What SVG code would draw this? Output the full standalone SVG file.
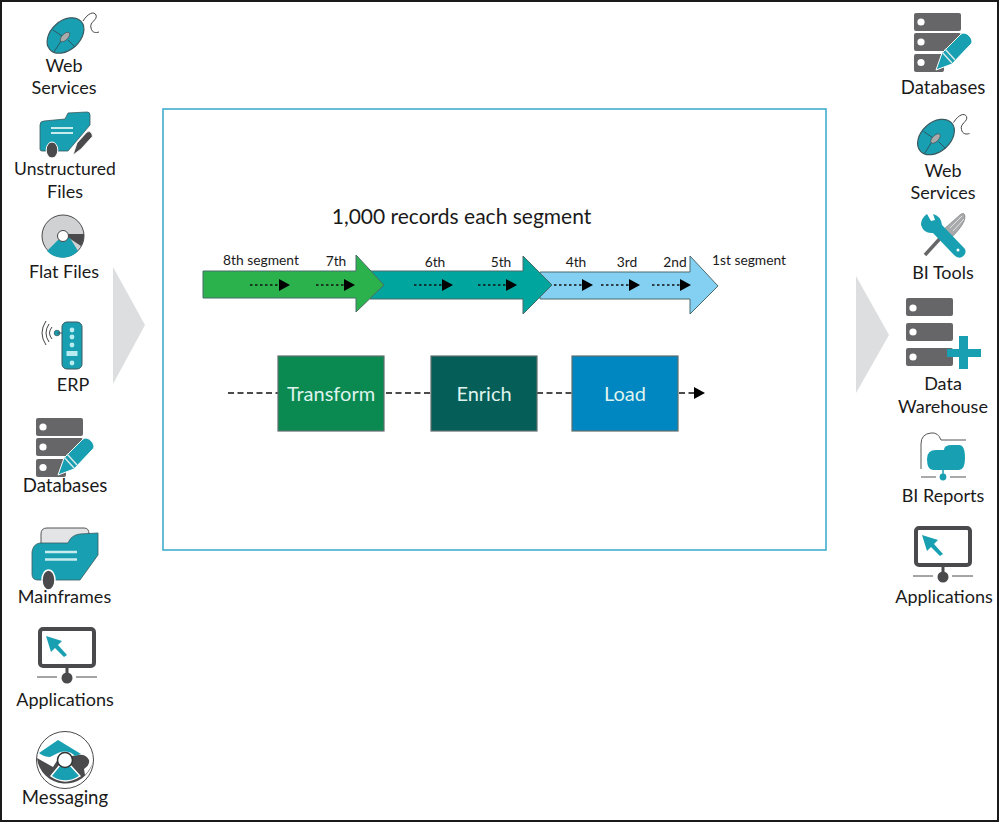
<svg xmlns="http://www.w3.org/2000/svg" width="1000" height="822" viewBox="0 0 1000 822">
<style>
text{font-family:Lato,"Open Sans","Liberation Sans",sans-serif;fill:#1a1a1a;text-anchor:middle}
.l{font-size:18px}
.m{font-size:18.600px}
.n{font-size:17.500px}
.s{font-size:13.800px}
.h{font-size:21px}
.b{font-size:20px;fill:#dff3ee}
.box{stroke:#5f6f6f;stroke-width:1.2}
.seg{stroke:#4a6a6a;stroke-width:1}
.t{fill:#18a0b2}
.g{fill:#666668}
.d{fill:#4a4a4c}
.dot{stroke:#111;stroke-width:1.4;stroke-dasharray:2.5 2.5;fill:none;marker-end:url(#h)}
.dash{stroke:#111;stroke-width:1.3;stroke-dasharray:6 3.5;fill:none}
.w{fill:#fff}
</style>
<defs>
<marker id="h" markerUnits="userSpaceOnUse" markerWidth="11" markerHeight="12" refX="0" refY="6" orient="auto"><path d="M0 0L11 6L0 12Z" fill="#000"/></marker>
<symbol id="mouse" overflow="visible">
<path d="M83 21C88 13 94 11 96 15C98 20 89 22 91 28C92 33 96 33 99 32" fill="none" stroke="#444" stroke-width="1"/>
<ellipse cx="65.500" cy="35.500" rx="21" ry="14.500" transform="rotate(-42 65.500 35.500)" class="t" stroke="#3a5a60" stroke-width="1.200"/>
<path d="M53 30L62 36M68 40L75 47M61 41L54 52" stroke="#2f5560" stroke-width="1" fill="none"/>
<ellipse cx="65" cy="37" rx="6" ry="3" transform="rotate(-45 65 37)" fill="#a9aaac" stroke="#444" stroke-width=".6"/>
</symbol>
<symbol id="dbp" overflow="visible">
<rect x="36" y="418" width="47" height="18" rx="2" class="g"/>
<rect x="36" y="438" width="47" height="18" rx="2" class="g"/>
<rect x="36" y="459" width="30" height="18" rx="2" class="g"/>
<circle cx="43" cy="427" r="3.600" class="w"/><circle cx="43" cy="447" r="3.600" class="w"/><circle cx="43" cy="467.500" r="3.600" class="w"/>
<path d="M58 475L64 458L83 439C87 436 93 441 94 446C94 448 93 449 92 450L74 469Z" class="t" stroke="#fff" stroke-width="1"/>
<path d="M64 457L74 468M67 454L77 465" stroke="#d8e8e8" stroke-width="1.500" fill="none"/>
</symbol>
<symbol id="mon" overflow="visible">
<rect x="40" y="629" width="54" height="37" rx="3" fill="#fff" stroke="#4a4a4c" stroke-width="4"/>
<path d="M67 668V678" stroke="#4a4a4c" stroke-width="3"/>
<circle cx="67" cy="678" r="5.500" class="d"/>
<path d="M37 677H57M76 677H97" stroke="#4a4a4c" stroke-width="1"/>
<path d="M46 636L62 641L58 645L67 655L64 657L55 648L51 652Z" class="t"/>
</symbol>
</defs>

<rect x="1" y="1" width="997" height="820" fill="#fff" stroke="#1a1a1a" stroke-width="2"/>
<polygon id="arrow-in" points="113,267 145,325 113,384" fill="#dcdee0"/>
<polygon id="arrow-out" points="856,276 889,335 856,393" fill="#dcdee0"/>

<g id="process-frame">
<rect x="163" y="109" width="663" height="441" fill="#fff" stroke="#35a8cc" stroke-width="1.500"/>
<text class="h" x="461.500" y="224">1,000 records each segment</text>
</g>

<g id="segments">
<polygon id="seg-blue" class="seg" points="540,272 690,272 690,256 718,286 690,314 690,299 540,299" fill="#84d0f2"/>
<polygon id="seg-teal" class="seg" points="370,271 523,271 523,256 552,285 523,314 523,299 370,299" fill="#00a69d"/>
<polygon id="seg-green" class="seg" points="203,271 356,271 356,255 384,285 356,312 356,298 203,298" fill="#2bb24c"/>
<text class="s" x="261" y="265">8th segment</text>
<text class="s" x="336" y="266">7th</text>
<text class="s" x="435" y="267">6th</text>
<text class="s" x="501" y="267">5th</text>
<text class="s" x="576" y="267">4th</text>
<text class="s" x="627" y="267">3rd</text>
<text class="s" x="675" y="267">2nd</text>
<text class="s" x="749" y="265">1st segment</text>
</g>

<g id="connectors">
<path class="dot" d="M250 285H279"/>
<path class="dot" d="M316 285H344"/>
<path class="dot" d="M414 285H442"/>
<path class="dot" d="M478 285H506"/>
<path class="dot" d="M554 285H582"/>
<path class="dot" d="M601 285H629"/>
<path class="dot" d="M652 285H680"/>
<path class="dash" d="M228 393H278"/>
<path class="dash" d="M386 393H431"/>
<path class="dash" d="M537 393H572"/>
<path class="dash" d="M679 393H694" marker-end="url(#h)"/>
</g>

<g id="transform"><rect class="box" x="278" y="356" width="106" height="75" fill="#0a8a50"/><text class="b" x="331" y="401">Transform</text></g>
<g id="enrich"><rect class="box" x="431" y="356" width="106" height="75" fill="#055e57"/><text class="b" x="484" y="401">Enrich</text></g>
<g id="load"><rect class="box" x="572" y="356" width="106" height="75" fill="#0086c0"/><text class="b" x="625" y="401">Load</text></g>

<g id="src-web"><use href="#mouse"/><text class="l" x="64" y="72">Web</text><text class="l" x="64" y="94">Services</text></g>
<g id="src-unstructured">
<path d="M40 125Q40 121 44 121L65 119L68 113L87 112Q90 112 90 115V125L68 151H42Q40 151 40 149Z" class="t" stroke="#3a5a60" stroke-width=".8"/>
<ellipse cx="52" cy="150" rx="5.800" ry="8" class="d" stroke="#fff" stroke-width="1"/>
<path d="M51 128H73M51 133H73" stroke="#c8ecee" stroke-width="2.200"/>
<path d="M73 155L77 143L87 132Q90 130 92 134Q93 137 91 138L81 149Z" class="d" stroke="#fff" stroke-width=".8"/>
<text class="n" x="65" y="175">Unstructured</text><text class="l" x="65" y="198">Files</text>
</g>
<g id="src-flat">
<circle cx="63" cy="236" r="21" fill="#cfd1d3" stroke="#4a4a4c" stroke-width="1"/>
<path d="M63 234H84A21 21 0 0 1 81 246Z" class="d"/>
<path d="M60 238L70 238L78 251A21 21 0 0 1 47 251Z" class="t"/>
<circle cx="63" cy="236" r="5.500" fill="#fff" stroke="#444" stroke-width="1"/>
<text class="l" x="64" y="278">Flat Files</text>
</g>
<g id="src-erp">
<rect x="62" y="322" width="20" height="47" rx="5" class="t" stroke="#3a5a60" stroke-width="1"/>
<circle cx="72" cy="330" r="2.400" fill="#b8ecf0"/><circle cx="72" cy="337" r="2.400" fill="#b8ecf0"/><circle cx="72" cy="345" r="2.400" fill="#b8ecf0"/>
<rect x="66.500" y="351" width="11" height="5" fill="#b8ecf0"/><circle cx="72" cy="363" r="2.400" fill="#b8ecf0"/>
<circle cx="57" cy="333" r="2.800" class="t" stroke="#3a5a60" stroke-width=".8"/><path d="M57 333H62" stroke="#3a5a60" stroke-width="1"/>
<path d="M52 327Q47 333 52 339M49 324Q43 333 49 342M46 321Q38 333 46 345" fill="none" stroke="#444" stroke-width="1"/>
<text class="l" x="73" y="391">ERP</text>
</g>
<g id="src-databases"><use href="#dbp"/><text class="m" x="65" y="492">Databases</text></g>
<g id="src-mainframes">
<path d="M41 548V534Q41 528 47 528H84Q89 528 89 534V545Z" fill="#e3e4e6" stroke="#555" stroke-width="1"/>
<path d="M32 552Q33 544 40 543H68Q71 535 80 534L98 533V555L80 580H38Q32 580 32 574Z" class="t" stroke="#3a5a60" stroke-width=".8"/>
<path d="M45 552H77M45 559.500H77" stroke="#c8ecee" stroke-width="2.600" fill="none"/>
<ellipse cx="48.500" cy="580" rx="6.500" ry="10" class="d" stroke="#fff" stroke-width="1.500"/>
<text class="l" x="64.500" y="603">Mainframes</text>
</g>
<g id="src-applications"><use href="#mon"/><text class="l" x="65" y="706">Applications</text></g>
<g id="src-messaging">
<circle cx="65" cy="760" r="28.500" fill="#fff" stroke="#4a4a4c" stroke-width="1"/>
<path d="M37 758Q44 762 53 767L60 756H72L78 755Q86 754 89 760Q90 765 84 769L85 775Q90 770 93 762A28.500 28.500 0 0 1 37 758Z" class="d"/>
<path d="M39 753L58 740L81 754L75 756Q68 749 58 753L50 757Q44 757 39 753Z" class="t"/>
<path d="M51 776L60 765H70L80 776Q65 786 51 776Z" class="t" stroke="#fff" stroke-width="1.500"/>
<circle cx="65" cy="760" r="7.500" fill="#fff" stroke="#333" stroke-width="1.500"/>
<text class="m" x="65" y="804">Messaging</text>
</g>

<g id="dst-databases"><use href="#dbp" x="878" y="-405"/><text class="m" x="943" y="94">Databases</text></g>
<g id="dst-web"><use href="#mouse" x="870.500" y="101.500"/><text class="l" x="943" y="177">Web</text><text class="l" x="943" y="199">Services</text></g>
<g id="dst-tools">
<path d="M925 255L945 233" stroke="#666668" stroke-width="3.500" fill="none"/>
<path d="M944 229L961 214Q965 212 965 217Q965 224 952 237Z" fill="#a9aaac" stroke="#777" stroke-width=".6"/>
<path d="M950 228L962 216M953 231L964 219" stroke="#eee" stroke-width=".8" fill="none"/>
<path d="M921 225Q921 218 927 214L931 221L935 220L933 214Q941 216 942 225L965 249Q967 254 962 257Q958 259 954 255L933 233Q924 234 921 225Z" class="t"/>
<circle cx="958" cy="250" r="1.500" class="w"/>
<text class="l" x="943" y="279">BI Tools</text>
</g>
<g id="dst-warehouse">
<rect x="906" y="298" width="47" height="18" rx="2" class="g"/><rect x="906" y="323" width="47" height="18" rx="2" class="g"/><rect x="906" y="348" width="47" height="18" rx="2" class="g"/>
<circle cx="913" cy="308" r="3.600" class="w"/><circle cx="913" cy="332" r="3.600" class="w"/><circle cx="913" cy="357" r="3.600" class="w"/>
<path d="M959 336H968V349H981V357H968V369H959V357H947V349H959Z" class="t"/>
<text class="l" x="943" y="390">Data</text><text class="l" x="943" y="413">Warehouse</text>
</g>
<g id="dst-reports">
<path d="M921 469V444Q921 434 931 433Q938 432 941 440H966" fill="none" stroke="#555" stroke-width="1"/>
<path d="M927 459Q927 450 936 450H944Q944 445 952 445H959Q965 445 965 458Q965 470 959 470H933Q927 470 927 459Z" class="t"/>
<path d="M943 470V476" stroke="#18a0b2" stroke-width="1.500"/>
<circle cx="943" cy="477" r="3.400" class="t"/>
<path d="M921 477H936M950 477H966" stroke="#555" stroke-width="1"/>
<text class="l" x="943" y="502">BI Reports</text>
</g>
<g id="dst-applications"><use href="#mon" x="876" y="-101"/><text class="l" x="944" y="603">Applications</text></g>
</svg>
